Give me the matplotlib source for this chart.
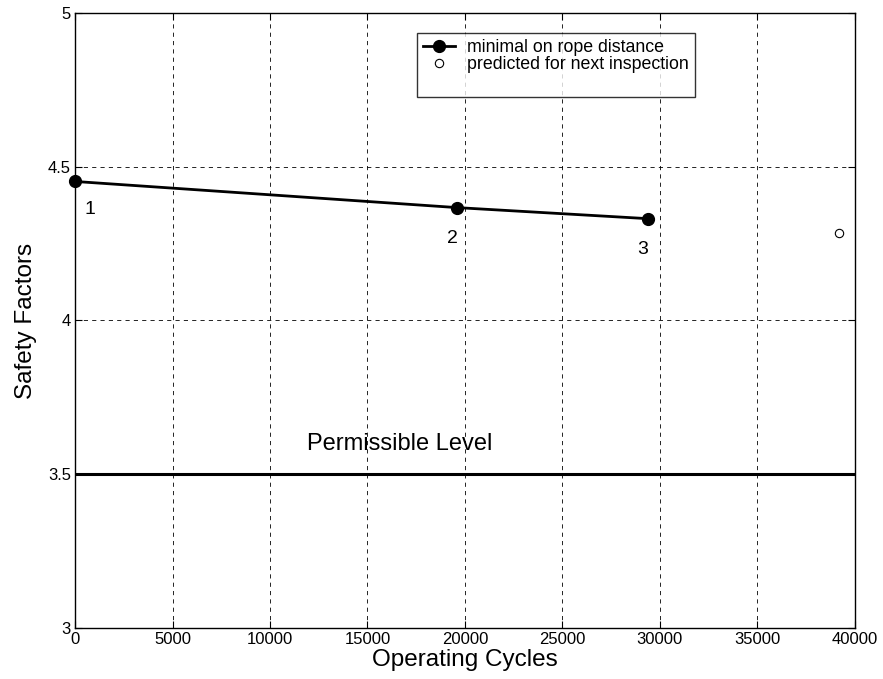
import numpy as np
import matplotlib.pyplot as plt
from matplotlib.lines import Line2D

plt.rcParams['font.family'] = ['Liberation Sans', 'DejaVu Sans']

# measured safety factors at inspections
cycles = [0, 19600, 29400]
safety = [4.452, 4.367, 4.331]
point_labels = ['1', '2', '3']

# predicted value for next inspection
pred_cycles = [39200]
pred_safety = [4.286]

permissible = 3.5

fig = plt.figure(figsize=(8.83, 6.79), dpi=100)
ax = fig.add_axes([0.085, 0.075, 0.883, 0.906])

ax.plot(cycles, safety, 'k-', marker='o', markersize=8.5, linewidth=2,
        label='minimal on rope distance', zorder=3, clip_on=False)
ax.plot(pred_cycles, pred_safety, 'o', markerfacecolor='white', markeredgecolor='k',
        markersize=6, markeredgewidth=0.8, linestyle='none',
        label='predicted for next inspection', zorder=3)
ax.axhline(permissible, color='k', linewidth=2.2)

# point numbers below markers
offsets = [(750, -0.092), (-250, -0.1), (-300, -0.1)]
for x, y, s, (dx, dy) in zip(cycles, safety, point_labels, offsets):
    ax.text(x + dx, y + dy, s, fontsize=14, ha='center', va='center')

ax.text(11900, permissible + 0.1, 'Permissible Level', fontsize=17, ha='left', va='center')

ax.set_xlim(0, 40000)
ax.set_ylim(3, 5)
ax.set_xticks(np.arange(0, 40001, 5000))
ax.set_yticks([3, 3.5, 4, 4.5, 5])
ax.set_yticklabels(['3', '3.5', '4', '4.5', '5'])
ax.grid(True, color='k', linestyle=(0, (5, 5)), linewidth=0.6)
ax.tick_params(direction='in', top=True, right=True, labelsize=12, length=5, pad=3)
for sp in ax.spines.values():
    sp.set_linewidth(1.0)

ax.set_xlabel('Operating Cycles', fontsize=17.5, labelpad=1)
ax.set_ylabel('Safety Factors', fontsize=17.5, labelpad=8)

handles, labels = ax.get_legend_handles_labels()
handles.append(Line2D([], [], linestyle='none'))
labels.append(' ')
leg = ax.legend(handles, labels, loc='upper left', bbox_to_anchor=(0.438, 0.967),
                fontsize=12.8, frameon=True, fancybox=False, edgecolor='k',
                borderpad=0.35, handlelength=1.8, handletextpad=0.7,
                labelspacing=0.0, borderaxespad=0)
leg.get_frame().set_linewidth(1.0)

fig.savefig('out.png', dpi=100)
